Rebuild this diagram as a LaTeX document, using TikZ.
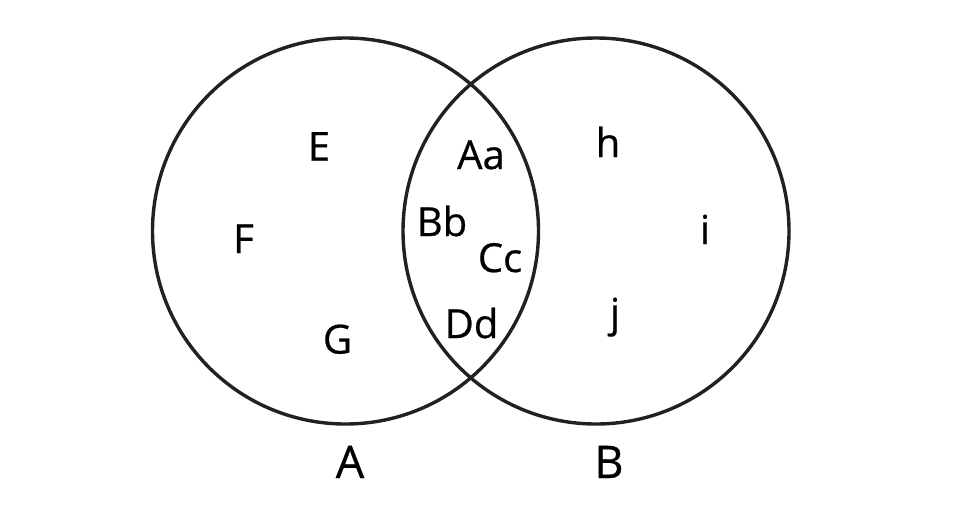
\documentclass[tikz,border=0pt]{standalone}
\usepackage{fontspec}
\setmainfont[FakeBold=0.6]{Open Sans}
\begin{document}
\begin{tikzpicture}[x=1pt,y=-1pt,
  setline/.style={line width=3.4pt,draw=black!87},
  lbl/.style={anchor=base,inner sep=0pt,font=\fontsize{40}{48}\selectfont},
  setname/.style={anchor=base,inner sep=0pt,font=\fontsize{45}{54}\selectfont}]
\useasboundingbox[fill=white] (0,0) rectangle (960,520);
\node[setline,circle,minimum size=386pt,inner sep=0pt] (cA) at (345.5,231) {};
\node[setline,circle,minimum size=386pt,inner sep=0pt] (cB) at (596,231) {};
\node[lbl] (E) at (319,160.7) {E};
\node[lbl] (F) at (243.5,253) {F};
\node[lbl] (G) at (337.5,353.5) {G};
\node[lbl] (Aa) at (481,169) {Aa};
\node[lbl] (Bb) at (442,236) {Bb};
\node[lbl] (Cc) at (500,272) {Cc};
\node[lbl] (Dd) at (471.5,338) {Dd};
\node[lbl] (h) at (608,157) {h};
\node[lbl] (i) at (705,244) {i};
\node[lbl] (j) at (615,327) {j};
\node[setname] (A) at (350,478) {A};
\node[setname] (B) at (609,478) {B};
\end{tikzpicture}
\end{document}
